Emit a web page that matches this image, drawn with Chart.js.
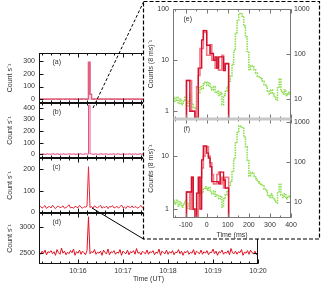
<!DOCTYPE html>
<html><head><meta charset="utf-8">
<script src="https://cdn.jsdelivr.net/npm/chart.js"></script>
<style>
html,body{margin:0;padding:0;background:#fff;}
#wrap{position:relative;width:336px;height:283px;overflow:hidden;background:#fff;}
#main{position:absolute;left:0;top:0;}
#inset{position:absolute;left:143px;top:1px;background:#fff;}
#ov{position:absolute;left:0;top:0;}
</style></head>
<body><div id="wrap">
<canvas id="main" width="336" height="283"></canvas>
<canvas id="inset" width="177" height="238"></canvas>
<svg id="ov" width="336" height="283">
  <rect x="143.5" y="1.5" width="176" height="237.5" fill="none" stroke="#000" stroke-width="1.2" stroke-dasharray="4 2"/>
  <line x1="93" y1="108" x2="143.5" y2="2" stroke="#000" stroke-width="1" stroke-dasharray="3 2"/>
  <line x1="92" y1="208" x2="143.5" y2="239" stroke="#000" stroke-width="1"/>
</svg>
</div>
<script>
// ---------- main panels (a)-(d): 2 s samples starting 10:15:08 ----------
const T0 = 15 + 8/60, DT = 2/60;
const utTicks = [16,17,18,19,20];
const utTickLabels = ['10:16','10:17','10:18','10:19','10:20'];
const yTicksA = [0,100,200,300];
const yTicksB = [0,100,200,300,400];
const yTicksC = [0,100,200];
const yTicksD = [2500,3000];

const countsA = [2,1,2,2,1,2,1,2,2,1, 2,2,1,2,1,2,2,1,2,2, 1,2,2,1,2,1,2,2,1,2,
 2,1,2,290,40,2,1,2,2,1, 2,1,2,2,1,2,2,1,2,1, 2,2,1,2,1,2,2,1,2,2,
 1,2,2,1,2,1,2,2,1,2, 2,1,2,2,1,2,2,1,2,1, 2,2,1,2,1,2,2,1,2,2,
 1,2,2,1,2,1,2,2,1,2, 2,1,2,2,1,2,2,1,2,1, 2,2,1,2,1,2,2,1,2,2,
 1,2,2,1,2,1,2,2,1,2, 2,1,2,2,1,2,2,1,2,1, 2,2,1,2,1,2,2];
const countsB = [4,2,5,3,1,6,3,2,4,5, 2,3,6,1,4,3,5,2,3,4, 6,2,3,5,1,4,2,6,3,2,
 4,5,3,420,6,3,2,5,4,1, 3,6,2,4,5,3,1,4,2,5, 3,2,6,4,1,3,5,2,4,3,
 6,2,4,3,5,1,3,6,2,4, 3,5,2,4,6,3,1,4,2,5, 3,2,5,4,1,6,3,2,4,3,
 5,2,4,1,3,6,2,4,3,5, 2,4,3,6,1,3,5,2,4,3, 6,2,4,3,5,2,9,8,4,3,
 2,5,3,4,6,1,3,4,2,5, 3,6,2,4,3,5,1,4,2,3, 5,2,4,3,6,2,4];
const countsC = [22,28,19,25,31,18,24,27,20,33, 23,17,26,29,21,24,30,19,22,27,
 35,20,24,18,28,25,21,32,23,19, 26,24,28,210,22,27,18,30,24,21,
 26,33,19,25,22,29,17,27,24,31, 20,23,28,19,26,34,21,24,18,29,
 25,22,30,20,27,23,19,26,32,21, 24,28,18,25,22,30,27,20,24,33,
 19,26,23,21,29,25,18,27,31,22, 24,20,28,26,19,33,23,25,21,30,
 18,27,24,22,29,20,26,31,23,19, 28,25,21,34,22,27,18,24,30,20,
 26,23,29,21,25,19,32,24,27,22, 20,28,35,23,18,26,30,21,25,24,
 19,31,27,22,38,20,26];
const countsD = [2510,2470,2530,2490,2550,2460,2520,2500,2540,2480,
 2520,2450,2560,2500,2470,2590,2490,2530,2460,2510,
 2480,2540,2500,2570,2450,2520,2490,2550,2470,2530,
 2500,2460,2540,3190,2480,2520,2500,2560,2470,2510,
 2490,2530,2450,2550,2500,2480,2570,2460,2520,2500,
 2540,2470,2510,2490,2560,2450,2530,2500,2480,2550,
 2460,2520,2500,2540,2470,2580,2490,2510,2460,2530,
 2500,2480,2550,2470,2520,2500,2540,2460,2510,2490,
 2570,2450,2530,2500,2480,2550,2470,2520,2490,2540,
 2460,2510,2500,2560,2480,2530,2450,2520,2500,2540,
 2470,2510,2490,2560,2460,2530,2500,2480,2550,2470,
 2520,2490,2540,2460,2510,2500,2570,2480,2530,2450,
 2520,2500,2550,2470,2510,2490,2540,2460,2580,2500,
 2480,2530,2470,2520,2500,2560,2450,2510,2490,2540,
 2470,2550,2500,2480,2530,2460,2520];

// ---------- inset (e),(f): 8 ms bins ----------
const msTicks = [-100,0,100,200,300,400];
const redStart = -96, redBin = 8;
const redE  = [4,4,1,1,1,0,0,7,7,25,38,38,19.6,19.6,13.5,13.5,10,11.6,7,11.6,11.6,11.6,6.3,8.6,8.6];
const redE2 = [4,4,4,1,1,0,3,5,17,17,38,35,12.5,12.5,20,10,10,7,11,6.4,6.4,12.5,7,8.4,8.4];
const redF  = [2.1,2.1,2.1,4,1,0,2,4,1,8.5,15.5,15.5,11.4,9.2,6.3,3.3,3.3,3.3,3.3,3,5,5,3.5,2.5,2.5];
const redF2 = [2.1,2.1,1,4,1,1,0,2,4,6,10,15,15,10,7.5,4.5,3,3,4.5,5,3,4,2.5,4,4];
const greenStart = -160, greenBin = 8;
const gammaCounts = [11,9,11,8,10,7.5,9,11,7,9, 13,8,6.5,6,9,14,19,17,22,24,
 20,23,18,16,19,14,15,12,14,7.5, 12,15,19,25,33,60,120,300,550,800,
 780,700,420,240,110,45,55,52,45,38, 32,30,28,25,21,19,15,13,16,13,
 11,9.5,18,28,15,13,16,12,14,13];
const logTicksEL = [1,10,100];
const logTicksFL = [1,10];
const logTicksR = [10,100,1000];

const FLOOR = 0.05;
const FONT = {family:'"Liberation Sans", Arial, sans-serif', size:7};
const TXT = '#333';
const NOGRID = {display:false, drawTicks:false, tickLength:0};

function series(vals){ return vals.map((v,i)=>({x:T0+i*DT, y:v})); }
function hist(vals,start,bin){
  const pts=[{x:start-bin,y:FLOOR}];
  vals.forEach((v,i)=>pts.push({x:start+i*bin,y:v>0?v:FLOOR}));
  pts.push({x:start+vals.length*bin,y:FLOOR});
  return pts;
}
function hist2(vals,start,bin){
  const pts=vals.map((v,i)=>({x:start+i*bin,y:v}));
  pts.push({x:start+vals.length*bin,y:vals[vals.length-1]});
  return pts;
}
function fixed(arr){ return s => { s.ticks = arr.map(v=>({value:v})); }; }

const framePlugin = {
  id:'frame',
  afterDatasetsDraw(chart, args, o){
    const ctx = chart.ctx, xs = chart.scales.x;
    ctx.save();
    ctx.lineWidth = 1; ctx.strokeStyle = o.color;
    const L = Math.round(xs.left)+0.5, R = Math.round(xs.right)-0.5;
    o.panels.forEach(p=>{
      const ys = chart.scales[p.y];
      const T = Math.round(ys.top)+0.5, B = Math.round(ys.bottom)-0.5;
      ctx.beginPath();
      o.xMajor.forEach(v=>{
        const px = Math.round(xs.getPixelForValue(v))+0.5;
        ctx.moveTo(px,B); ctx.lineTo(px,B-o.major);
        ctx.moveTo(px,T); ctx.lineTo(px,T+o.major);
      });
      const n = Math.floor((xs.max-o.minorStart)/o.minorStep+1e-6);
      for(let i=0;i<=n;i++){
        const px = Math.round(xs.getPixelForValue(o.minorStart+i*o.minorStep))+0.5;
        ctx.moveTo(px,B); ctx.lineTo(px,B-o.minor);
        ctx.moveTo(px,T); ctx.lineTo(px,T+o.minor);
      }
      ys.ticks.forEach(t=>{
        const py = Math.round(ys.getPixelForValue(t.value))+0.5;
        ctx.moveTo(L,py); ctx.lineTo(L+o.major,py);
        if(!p.r){ ctx.moveTo(R,py); ctx.lineTo(R-o.major,py); }
      });
      if(p.r){
        const rs = chart.scales[p.r];
        rs.ticks.forEach(t=>{
          const py = Math.round(rs.getPixelForValue(t.value))+0.5;
          ctx.moveTo(R,py); ctx.lineTo(R-o.major,py);
        });
      }
      ctx.stroke();
      ctx.strokeRect(L,T,R-L,B-T);
      ctx.fillStyle = TXT; ctx.font = '7px "Liberation Sans", Arial, sans-serif';
      ctx.textBaseline='middle'; ctx.textAlign='left';
      ctx.fillText(p.label, L+o.labelDx, T+o.labelDy);
    });
    if(o.sep){
      const ys = chart.scales[o.sep];
      ctx.fillStyle = '#c8c8c8';
      ctx.fillRect(L, Math.round(ys.top)-1.5, R-L, 3);
    }
    ctx.restore();
  }
};

function yAxis(opt){
  return Object.assign({
    type:'linear', position:'left', stack:'p',
    grid:NOGRID, border:{display:false},
    ticks:{font:FONT, color:TXT, padding:4, autoSkip:false, callback:v=>String(v)},
    title:{display:true, text:'Count s\u207B\u00B9', font:FONT, color:TXT, padding:{top:6,bottom:0}},
    afterFit:s=>{s.width=39;}
  }, opt);
}

new Chart(document.getElementById('main'), {
  type:'line',
  data:{datasets:[
    {data:series(countsA), yAxisID:'ya', borderColor:'#e0607f', borderWidth:1.6, stepped:true, pointRadius:0},
    {data:series(countsB), yAxisID:'yb', borderColor:'#e8508a', borderWidth:1, stepped:true, pointRadius:0},
    {data:series(countsC), yAxisID:'yc', borderColor:'#e8283a', borderWidth:1, pointRadius:0},
    {data:series(countsD), yAxisID:'yd', borderColor:'#e01020', borderWidth:1, pointRadius:0}
  ]},
  options:{
    responsive:false, animation:false,
    layout:{padding:{left:0, top:53, right:78, bottom:0}},
    plugins:{legend:{display:false}, tooltip:{enabled:false},
      frame:{color:'#111', panels:[{y:'ya',label:'(a)'},{y:'yb',label:'(b)'},{y:'yc',label:'(c)'},{y:'yd',label:'(d)'}],
        xMajor:utTicks, minorStart:15.2, minorStep:0.2, major:4, minor:2, labelDx:13, labelDy:9}},
    scales:{
      x:{type:'linear', position:'bottom', min:T0, max:20,
        afterBuildTicks:fixed(utTicks),
        ticks:{font:FONT, color:TXT, padding:3, maxRotation:0, autoSkip:false,
          callback:v=>utTickLabels[utTicks.indexOf(v)]},
        grid:NOGRID, border:{display:false},
        title:{display:true, text:'Time (UT)', font:FONT, color:TXT, padding:{top:0,bottom:0}},
        afterFit:s=>{s.height=19;}},
      yd:yAxis({stackWeight:51, weight:1, min:2283, max:3263, afterBuildTicks:fixed(yTicksD)}),
      yc:yAxis({stackWeight:55, weight:2, min:-3, max:250, afterBuildTicks:fixed(yTicksC)}),
      yb:yAxis({stackWeight:55, weight:3, min:-30, max:440, afterBuildTicks:fixed(yTicksB)}),
      ya:yAxis({stackWeight:50, weight:4, min:-29, max:362, afterBuildTicks:fixed(yTicksA)})
    }
  },
  plugins:[framePlugin]
});

function logAxis(opt){
  const left = opt.position==='left';
  return Object.assign({
    type:'logarithmic',
    grid:NOGRID, border:{display:false},
    ticks:{font:FONT, color:TXT, padding:left?4:3, autoSkip:false, callback:v=>String(v)},
    title:left?{display:true, text:'Counts (8 ms)\u207B\u00B9', font:FONT, color:TXT, padding:{top:4,bottom:0}}:{display:false},
    afterFit:s=>{s.width = left?30:29;}
  }, opt);
}

const GREEN = '#86dc46';
new Chart(document.getElementById('inset'), {
  type:'line',
  data:{datasets:[
    {data:hist(redE,redStart,redBin), yAxisID:'yeL', borderColor:'#d4102c', borderWidth:1.4, stepped:true, pointRadius:0},
    {data:hist(redE2,redStart,redBin), yAxisID:'yeL', borderColor:'#f07888', borderWidth:1.6, stepped:true, pointRadius:0},
    {data:hist(redF,redStart,redBin), yAxisID:'yfL', borderColor:'#d4102c', borderWidth:1.4, stepped:true, pointRadius:0},
    {data:hist(redF2,redStart,redBin), yAxisID:'yfL', borderColor:'#f07888', borderWidth:1.6, stepped:true, pointRadius:0},
    {data:hist2(gammaCounts,greenStart,greenBin), yAxisID:'yeR', borderColor:GREEN, borderWidth:1.5, borderDash:[1.5,1], stepped:true, pointRadius:0},
    {data:hist2(gammaCounts,greenStart,greenBin), yAxisID:'yfR', borderColor:GREEN, borderWidth:1.5, borderDash:[1.5,1], stepped:true, pointRadius:0}
  ]},
  options:{
    responsive:false, animation:false,
    layout:{padding:{left:0, top:8, right:0, bottom:0}},
    plugins:{legend:{display:false}, tooltip:{enabled:false},
      frame:{color:'#777', panels:[{y:'yeL',r:'yeR',label:'(e)'},{y:'yfL',r:'yfR',label:'(f)'}],
        xMajor:msTicks, minorStart:-150, minorStep:50, major:4, minor:2, labelDx:10, labelDy:10, sep:'yfL'}},
    scales:{
      x:{type:'linear', position:'bottom', min:-160, max:400,
        afterBuildTicks:fixed(msTicks),
        ticks:{font:FONT, color:TXT, padding:3, maxRotation:0, autoSkip:false, callback:v=>String(v)},
        grid:NOGRID, border:{display:false},
        title:{display:true, text:'Time (ms)', font:FONT, color:TXT, padding:{top:0,bottom:0}},
        afterFit:s=>{s.height=21;}},
      yfL:logAxis({position:'left', stack:'L', stackWeight:99, weight:1, min:0.68, max:50, afterBuildTicks:fixed(logTicksFL)}),
      yeL:logAxis({position:'left', stack:'L', stackWeight:110, weight:2, min:0.70, max:100, afterBuildTicks:fixed(logTicksEL)}),
      yeR:logAxis({position:'right', stack:'R', stackWeight:110, weight:1, min:3.6, max:1000, afterBuildTicks:fixed(logTicksR)}),
      yfR:logAxis({position:'right', stack:'R', stackWeight:99, weight:2, min:3.98, max:1190, afterBuildTicks:fixed(logTicksR)})
    }
  },
  plugins:[framePlugin]
});
</script>
</body></html>
